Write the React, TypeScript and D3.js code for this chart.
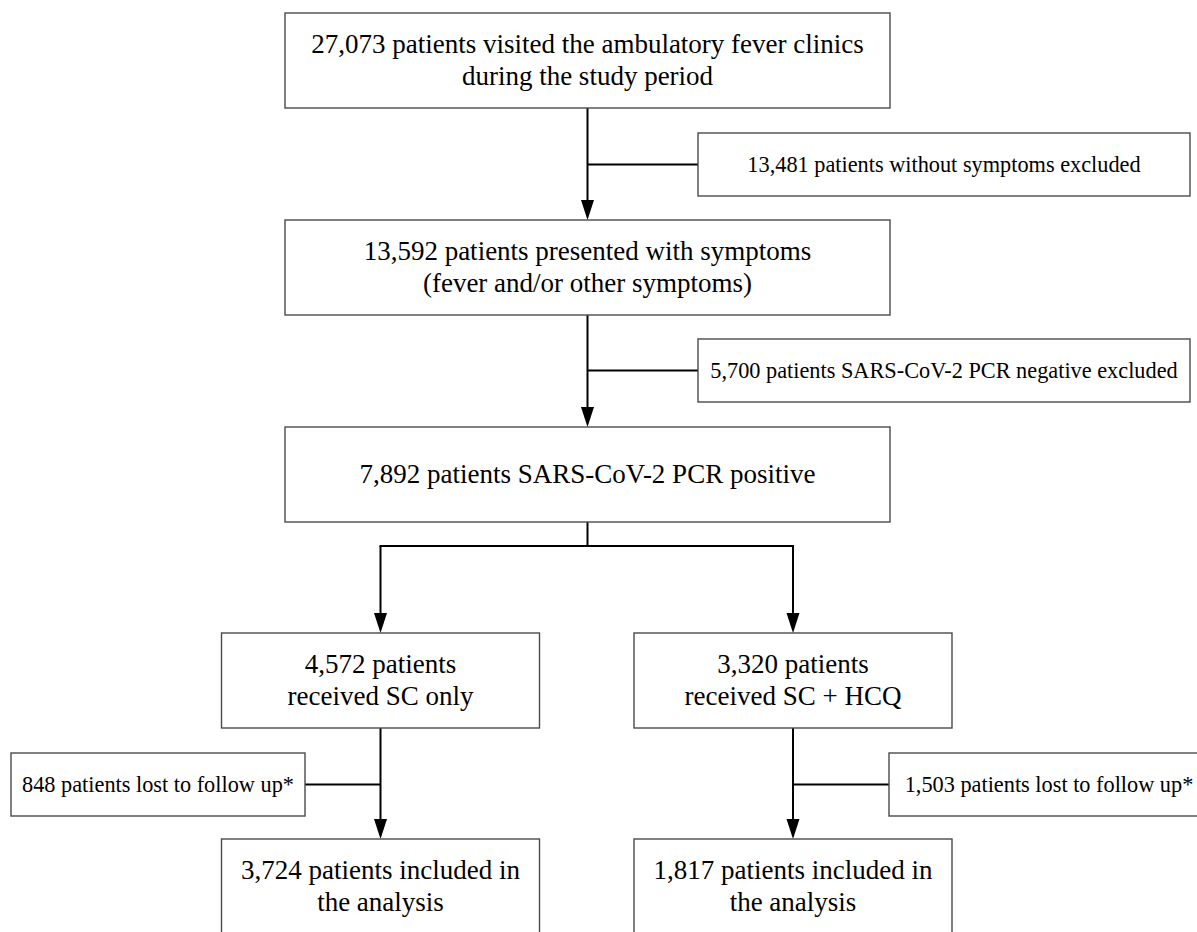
import React from 'react';
import * as d3 from 'd3';

// flow chart content
const mainSteps: string[][] = [
  ['27,073 patients visited the ambulatory fever clinics', 'during the study period'],
  ['13,592 patients presented with symptoms', '(fever and/or other symptoms)'],
  ['7,892 patients SARS-CoV-2 PCR positive'],
];
const exclusions = [
  '13,481 patients without symptoms excluded',
  '5,700 patients SARS-CoV-2 PCR negative excluded',
];
const armGroups: string[][] = [
  ['4,572 patients', 'received SC only'],
  ['3,320 patients', 'received SC + HCQ'],
];
const lostToFollowUp = ['848 patients lost to follow up*', '1,503 patients lost to follow up*'];
const analysed: string[][] = [
  ['3,724 patients included in', 'the analysis'],
  ['1,817 patients included in', 'the analysis'],
];

const W = 1197;
const H = 932;
const FONT = "'Liberation Serif', Tinos, 'Times New Roman', Times, 'DejaVu Serif', serif";
const BIG = 27;
const SMALL = 22.3;
const BORDER = '#4a4a4a';

// layout
const mainX = 285, mainW = 605, boxH = 95, exclH = 63;
const mainTop = [13, 220, 427];
const exclX = 698, exclW = 492, exclTop = [133, 339];
const armX = [221.5, 634], armW = 318, armTop = 633;
const lostX = [11, 889], lostW = [294, 320], lostTop = 753;
const endTop = 839;
const splitY = 546;

const cx = mainX + mainW / 2;
const armCx = armX.map(x => x + armW / 2);

const line = d3.line<[number, number]>();

const Arrow: React.FC<{ x: number; y0: number; y1: number }> = ({ x, y0, y1 }) => (
  <g>
    <path d={line([[x, y0], [x, y1 - 18]]) ?? ''} stroke="#000" strokeWidth={2} fill="none" />
    <path d={`M${x - 6.5},${y1 - 20}L${x + 6.5},${y1 - 20}L${x},${y1}Z`} fill="#000" />
  </g>
);

const Box: React.FC<{ x: number; y: number; w: number; h: number; lines: string[]; size: number }> = ({ x, y, w, h, lines, size }) => {
  const gap = size * 1.16;
  const mid = y + h / 2;
  return (
    <g>
      <rect x={x} y={y} width={w} height={h} fill="#fff" stroke={BORDER} strokeWidth={1.4} />
      {lines.map((t, i) => (
        <text
          key={i}
          x={x + w / 2}
          y={mid + (i - (lines.length - 1) / 2) * gap}
          textAnchor="middle"
          dy="0.32em"
          style={{ fontFamily: FONT, fontSize: size }}
          fill="#000"
        >
          {t}
        </text>
      ))}
    </g>
  );
};

const App: React.FC = () => {
  return (
    <svg width={W} height={H} style={{ position: 'absolute', left: 0, top: 0, background: '#fff' }}>
      {/* main column arrows with exclusion branches */}
      {[0, 1].map(i => {
        const y0 = mainTop[i] + boxH;
        const by = exclTop[i] + exclH / 2;
        return (
          <g key={i}>
            <Arrow x={cx} y0={y0} y1={mainTop[i + 1]} />
            <path d={line([[cx, by], [exclX, by]]) ?? ''} stroke="#000" strokeWidth={2} />
          </g>
        );
      })}

      {/* split into the two arms */}
      <path d={line([[cx, mainTop[2] + boxH], [cx, splitY]]) ?? ''} stroke="#000" strokeWidth={2} />
      <path d={line([[armCx[0] - 1, splitY], [armCx[1] + 1, splitY]]) ?? ''} stroke="#000" strokeWidth={2} />
      {armCx.map((x, i) => (
        <Arrow key={i} x={x} y0={splitY} y1={armTop} />
      ))}

      {/* arms down to analysis, with loss to follow up */}
      {armCx.map((x, i) => {
        const by = lostTop + exclH / 2;
        const edge = i === 0 ? lostX[0] + lostW[0] : lostX[1];
        return (
          <g key={i}>
            <Arrow x={x} y0={armTop + boxH} y1={endTop} />
            <path d={line([[x, by], [edge, by]]) ?? ''} stroke="#000" strokeWidth={2} />
          </g>
        );
      })}

      {mainSteps.map((lines, i) => (
        <Box key={i} x={mainX} y={mainTop[i]} w={mainW} h={boxH} lines={lines} size={BIG} />
      ))}
      {exclusions.map((t, i) => (
        <Box key={i} x={exclX} y={exclTop[i]} w={exclW} h={exclH} lines={[t]} size={SMALL} />
      ))}
      {armGroups.map((lines, i) => (
        <Box key={i} x={armX[i]} y={armTop} w={armW} h={boxH} lines={lines} size={BIG} />
      ))}
      {lostToFollowUp.map((t, i) => (
        <Box key={i} x={lostX[i]} y={lostTop} w={lostW[i]} h={exclH} lines={[t]} size={SMALL} />
      ))}
      {analysed.map((lines, i) => (
        <Box key={i} x={armX[i]} y={endTop} w={armW} h={boxH} lines={lines} size={BIG} />
      ))}
    </svg>
  );
};

export default App;
